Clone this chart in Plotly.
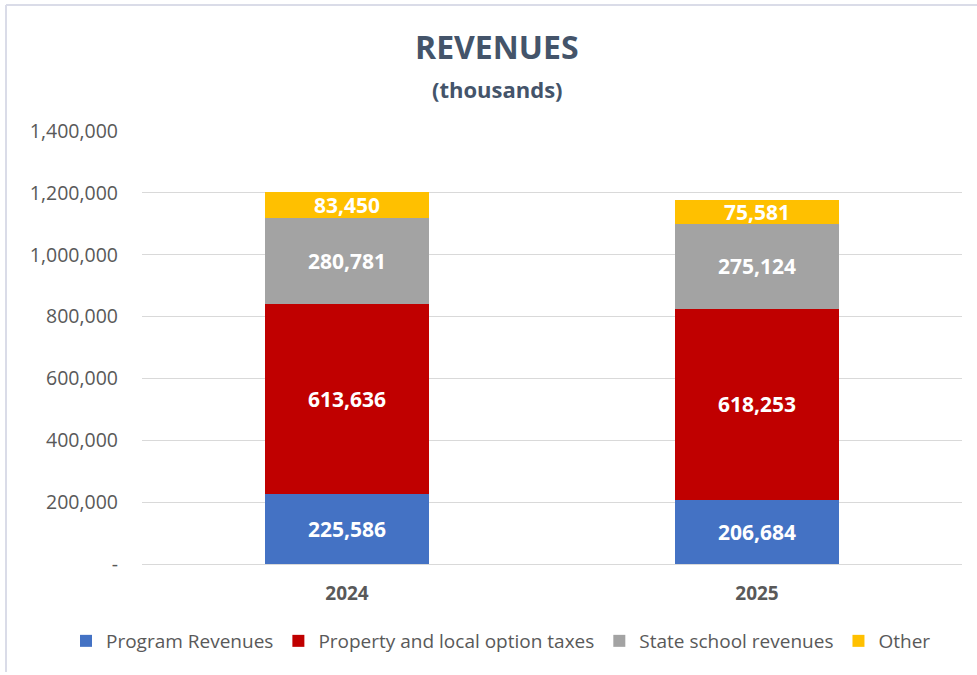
import plotly.graph_objects as go

years = ["2024", "2025"]
program_revenues = [225586, 206684]
property_taxes = [613636, 618253]
state_school = [280781, 275124]
other = [83450, 75581]

series_names = ["Program Revenues", "Property and local option taxes",
                "State school revenues", "Other"]
series_values = [program_revenues, property_taxes, state_school, other]
series_colors = ["#4472C4", "#C00000", "#A3A3A3", "#FFC000"]

tick_vals = [0, 200000, 400000, 600000, 800000, 1000000, 1200000, 1400000]
tick_text = ["-", "200,000", "400,000", "600,000", "800,000",
             "1,000,000", "1,200,000", "1,400,000"]

FONT = "Open Sans"
fig = go.Figure()
for name, vals, col in zip(series_names, series_values, series_colors):
    fig.add_trace(go.Bar(
        x=years, y=vals, name=name,
        marker=dict(color=col, line=dict(width=0)),
        text=[f"{v:,}" for v in vals],
        textposition="inside", insidetextanchor="middle",
        constraintext="none",
        textfont=dict(family=FONT, size=21, color="white", weight="bold"),
        hoverinfo="skip",
    ))

L, R, T, B = 142, 15, 131, 111
W, H = 977, 675
pw, ph = W - L - R, H - T - B

def px(x):
    return (x - L) / pw

def py(y):
    return (H - B - y) / ph

fig.update_layout(
    width=W, height=H,
    barmode="stack", bargap=0.6,
    margin=dict(l=L, r=R, t=T, b=B, autoexpand=False),
    paper_bgcolor="white", plot_bgcolor="white",
    font=dict(family=FONT, color="#595959"),
    showlegend=True,
    legend=dict(orientation="h", x=px(66), xanchor="left",
                y=py(641), yanchor="middle",
                font=dict(family=FONT, size=19, color="#595959"),
                traceorder="normal", itemclick=False),
    xaxis=dict(showgrid=False, showline=False, zeroline=False, automargin=False,
               tickfont=dict(family=FONT, size=19, color="#595959", weight="bold"),
               ticks="", ticklabelstandoff=16),
    yaxis=dict(range=[0, 1400000], tickvals=tick_vals, ticktext=tick_text,
               showgrid=True, gridcolor="#D9D9D9", gridwidth=1, automargin=False,
               zeroline=True, zerolinecolor="#D9D9D9", zerolinewidth=1,
               showline=False, ticks="", ticklabelstandoff=23,
               tickfont=dict(family=FONT, size=19.5, color="#595959")),
    annotations=[
        dict(text="<b>REVENUES</b>", xref="paper", yref="paper",
             x=px(497), y=py(46), xanchor="center", yanchor="middle",
             showarrow=False, font=dict(family=FONT, size=32, color="#44546A")),
        dict(text="<b>(thousands)</b>", xref="paper", yref="paper",
             x=px(497), y=py(89), xanchor="center", yanchor="middle",
             showarrow=False, font=dict(family=FONT, size=22, color="#44546A")),
    ],
    shapes=[
        dict(type="line", xref="paper", yref="paper",
             x0=px(6), x1=px(W + 5), y0=py(5), y1=py(5),
             line=dict(color="#DADCE8", width=2)),
        dict(type="line", xref="paper", yref="paper",
             x0=px(6), x1=px(6), y0=py(5), y1=py(672),
             line=dict(color="#DADCE8", width=2)),
    ],
)

fig.write_html("out.html",
               config={"displayModeBar": False},
               post_script="document.body.style.margin='0';")
